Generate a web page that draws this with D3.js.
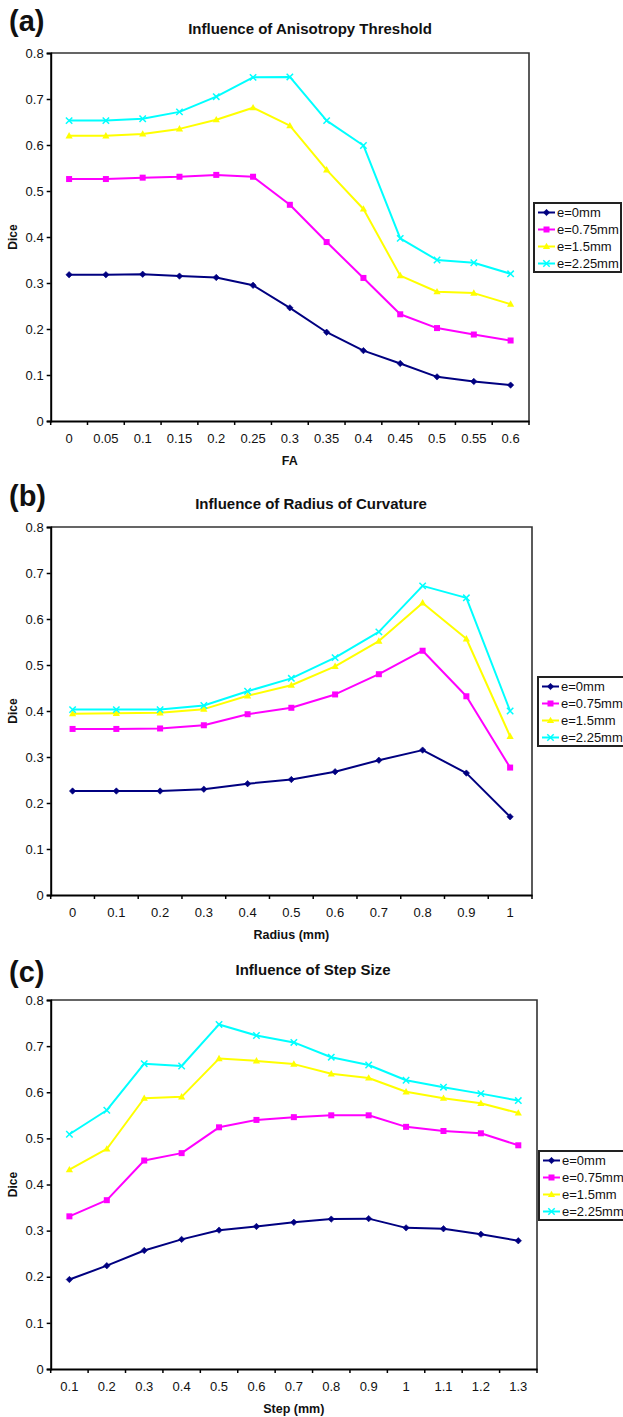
<!DOCTYPE html>
<html><head><meta charset="utf-8">
<script src="https://cdn.jsdelivr.net/npm/d3@7"></script>
<style>
html,body{margin:0;padding:0;background:#fff;}
svg{display:block;font-family:"Liberation Sans",Arial,sans-serif;}
</style></head>
<body>
<svg id="chart" width="623" height="1417"></svg>
<script>
// ---- data ----
const seriesNames = ["e=0mm", "e=0.75mm", "e=1.5mm", "e=2.25mm"];
const yTicks = [0, 0.1, 0.2, 0.3, 0.4, 0.5, 0.6, 0.7, 0.8];

const faLabels = ["0","0.05","0.1","0.15","0.2","0.25","0.3","0.35","0.4","0.45","0.5","0.55","0.6"];
const faE0    = [0.318,0.318,0.319,0.315,0.312,0.295,0.246,0.193,0.153,0.125,0.096,0.086,0.078];
const faE075  = [0.526,0.526,0.529,0.531,0.535,0.531,0.470,0.389,0.311,0.232,0.202,0.188,0.175];
const faE15   = [0.620,0.620,0.624,0.635,0.655,0.681,0.642,0.546,0.461,0.316,0.281,0.278,0.254];
const faE225  = [0.653,0.653,0.657,0.672,0.705,0.747,0.748,0.653,0.599,0.397,0.350,0.344,0.320];

const radLabels = ["0","0.1","0.2","0.3","0.4","0.5","0.6","0.7","0.8","0.9","1"];
const radE0   = [0.226,0.226,0.226,0.230,0.242,0.251,0.268,0.293,0.315,0.265,0.170];
const radE075 = [0.361,0.361,0.362,0.369,0.393,0.407,0.436,0.480,0.531,0.432,0.277];
const radE15  = [0.394,0.395,0.396,0.404,0.433,0.456,0.497,0.552,0.635,0.557,0.345];
const radE225 = [0.403,0.403,0.403,0.412,0.443,0.471,0.516,0.572,0.672,0.646,0.400];

const stepLabels = ["0.1","0.2","0.3","0.4","0.5","0.6","0.7","0.8","0.9","1","1.1","1.2","1.3"];
const stepE0   = [0.194,0.224,0.257,0.281,0.301,0.309,0.318,0.325,0.326,0.306,0.304,0.292,0.278];
const stepE075 = [0.331,0.366,0.452,0.468,0.524,0.540,0.546,0.550,0.550,0.525,0.516,0.511,0.485];
const stepE15  = [0.432,0.477,0.587,0.590,0.673,0.668,0.661,0.640,0.631,0.601,0.587,0.576,0.555];
const stepE225 = [0.509,0.561,0.662,0.657,0.747,0.723,0.708,0.676,0.659,0.626,0.611,0.597,0.582];

const colors = ["#000080", "#ff00ff", "#ffff00", "#00ffff"];
const markers = ["diamond", "square", "triangle", "cross"];

const panels = [
  {tag:"(a)", title:"Influence of Anisotropy Threshold", xTitle:"FA", labels:faLabels,
   series:[faE0,faE075,faE15,faE225],
   L:50.7, R:529, T:53, B:421, tagY:31, titleX:310, titleY:34, legX:534, legY:203},
  {tag:"(b)", title:"Influence of Radius of Curvature", xTitle:"Radius (mm)", labels:radLabels,
   series:[radE0,radE075,radE15,radE225],
   L:50.7, R:532, T:527, B:895, tagY:506, titleX:311, titleY:509, legX:538, legY:677},
  {tag:"(c)", title:"Influence of Step Size", xTitle:"Step (mm)", labels:stepLabels,
   series:[stepE0,stepE075,stepE15,stepE225],
   L:50.7, R:537, T:1000, B:1369, tagY:982, titleX:313, titleY:975, legX:539, legY:1151}
];

const svg = d3.select("#chart");

function drawMarker(g, type, x, y, color) {
  if (type === "diamond") {
    g.append("path").attr("d", `M${x},${y-3.2}L${x+3.2},${y}L${x},${y+3.2}L${x-3.2},${y}Z`)
      .attr("fill", color).attr("stroke", color).attr("stroke-width", 0.6);
  } else if (type === "square") {
    g.append("rect").attr("x", x-3).attr("y", y-3).attr("width", 6).attr("height", 6).attr("fill", color);
  } else if (type === "triangle") {
    g.append("path").attr("d", `M${x},${y-3.8}L${x+3.6},${y+2.6}L${x-3.6},${y+2.6}Z`).attr("fill", color);
  } else {
    g.append("path").attr("d", `M${x-3.2},${y-3.2}L${x+3.2},${y+3.2}M${x+3.2},${y-3.2}L${x-3.2},${y+3.2}`)
      .attr("stroke", color).attr("stroke-width", 1.5).attr("fill", "none");
  }
}

panels.forEach(p => {
  const g = svg.append("g");
  const x = d3.scaleBand().domain(p.labels).range([p.L, p.R]).padding(0);
  const y = d3.scaleLinear().domain([0, 0.8]).range([p.B, p.T]);

  // frame (top and right)
  g.append("path").attr("d", `M${p.L},${p.T}H${p.R}V${p.B}`)
    .attr("fill", "none").attr("stroke", "#333").attr("stroke-width", 1.6);

  // y axis
  const ya = g.append("g").attr("transform", `translate(${p.L},0)`)
    .call(d3.axisLeft(y).tickValues(yTicks).tickSize(4).tickPadding(3)
      .tickFormat(d => d === 0 ? "0" : d3.format(".1f")(d)));
  ya.select(".domain").attr("stroke", "#000").attr("stroke-width", 2);
  ya.selectAll(".tick line").attr("stroke", "#000").attr("stroke-width", 1.5);
  ya.selectAll("text").attr("font-size", 13).attr("fill", "#111");

  // x axis: labels centered in bands, ticks at band edges
  const xa = g.append("g").attr("transform", `translate(0,${p.B})`)
    .call(d3.axisBottom(x).tickSize(0).tickPadding(13));
  xa.select(".domain").attr("stroke", "#000").attr("stroke-width", 2);
  xa.selectAll("text").attr("font-size", 13).attr("fill", "#111");
  const edges = p.labels.map(l => x(l)).concat([p.R]);
  g.selectAll(null).data(edges).enter().append("line")
    .attr("x1", d => d).attr("x2", d => d).attr("y1", p.B).attr("y2", p.B + 4)
    .attr("stroke", "#000").attr("stroke-width", 1.5);

  // series
  const line = d3.line().x((d, i) => x(p.labels[i]) + x.bandwidth() / 2).y(d => y(d));
  p.series.forEach((s, k) => {
    g.append("path").datum(s).attr("d", line).attr("fill", "none")
      .attr("stroke", colors[k]).attr("stroke-width", 2).attr("stroke-linejoin", "round");
  });
  p.series.forEach((s, k) => {
    s.forEach((v, i) => drawMarker(g, markers[k], x(p.labels[i]) + x.bandwidth() / 2, y(v), colors[k]));
  });

  // texts
  g.append("text").attr("x", 9).attr("y", p.tagY).text(p.tag)
    .attr("font-size", 29).attr("font-weight", "bold").attr("fill", "#111");
  g.append("text").attr("x", p.titleX).attr("y", p.titleY).attr("text-anchor", "middle").text(p.title)
    .attr("font-size", 15).attr("font-weight", "bold").attr("fill", "#111");
  g.append("text").attr("x", (p.L + p.R) / 2).attr("y", p.B + 44).attr("text-anchor", "middle").text(p.xTitle)
    .attr("font-size", 12.5).attr("font-weight", "bold").attr("fill", "#111");
  g.append("text").attr("transform", `translate(17,${(p.T + p.B) / 2}) rotate(-90)`)
    .attr("text-anchor", "middle").text("Dice")
    .attr("font-size", 12).attr("font-weight", "bold").attr("fill", "#111");

  // legend
  const lg = g.append("g").attr("transform", `translate(${p.legX},${p.legY})`);
  lg.append("rect").attr("x", 0).attr("y", 0).attr("width", 87).attr("height", 69)
    .attr("fill", "#fff").attr("stroke", "#222").attr("stroke-width", 2);
  seriesNames.forEach((n, k) => {
    const yy = 9.5 + k * 17;
    lg.append("line").attr("x1", 4).attr("x2", 21).attr("y1", yy).attr("y2", yy)
      .attr("stroke", colors[k]).attr("stroke-width", 2);
    drawMarker(lg, markers[k], 12.5, yy, colors[k]);
    lg.append("text").attr("x", 23).attr("y", yy + 4.5).text(n)
      .attr("font-size", 13).attr("fill", "#111");
  });
});
</script>
</body></html>
